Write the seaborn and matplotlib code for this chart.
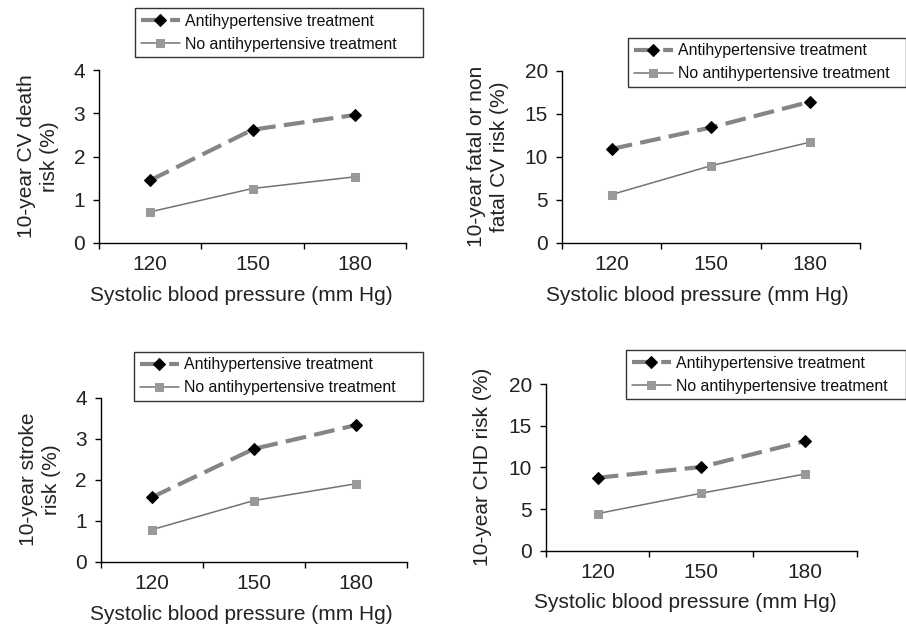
import numpy as np
import pandas as pd
import matplotlib
matplotlib.use("Agg")
import matplotlib.pyplot as plt
import seaborn as sns

sns.set_theme(style="white")
plt.rcParams['font.family'] = ['Liberation Sans', 'DejaVu Sans']

sbp = ["120", "150", "180"]
series_names = ["Antihypertensive treatment", "No antihypertensive treatment"]

cv_death_treated = [1.45, 2.62, 2.96]
cv_death_untreated = [0.72, 1.26, 1.53]
cv_any_treated = [10.9, 13.4, 16.4]
cv_any_untreated = [5.6, 8.95, 11.7]
stroke_treated = [1.57, 2.75, 3.33]
stroke_untreated = [0.78, 1.49, 1.90]
chd_treated = [8.75, 10.05, 13.15]
chd_untreated = [4.45, 6.9, 9.2]

ylabels = ["10-year CV death\nrisk (%)", "10-year fatal or non\nfatal CV risk (%)",
           "10-year stroke\nrisk (%)", "10-year CHD risk (%)"]
ymax = [4, 20, 4, 20]
ystep = [1, 5, 1, 5]
xlabel = "Systolic blood pressure (mm Hg)"

W, H = 906, 627
fig = plt.figure(figsize=(W / 100, H / 100), dpi=100)

# axes boxes in pixels: left, right, top, bottom
boxes = [(99, 406, 70, 243), (562, 860, 70.7, 242.7),
         (100.7, 406.7, 397.7, 561.7), (545.7, 857, 384, 550.7)]
# legend boxes in pixels: left, top, right
legpos = [(135, 8, 423), (628, 37.7, 905.5), (134, 351.7, 423), (626, 350, 905.5)]
ylabpad = [10, 11, 10, 12]
# x-label centres in pixels
xlabc = [(241, 295), (697, 295), (241, 614), (685.6, 603)]

data = [(cv_death_treated, cv_death_untreated), (cv_any_treated, cv_any_untreated),
        (stroke_treated, stroke_untreated), (chd_treated, chd_untreated)]

for i, (box, (tr, un)) in enumerate(zip(boxes, data)):
    l, r, t, b = box
    ax = fig.add_axes([l / W, 1 - b / H, (r - l) / W, (b - t) / H])
    df = pd.DataFrame({"sbp": sbp * 2, "risk": list(tr) + list(un),
                       "group": [series_names[0]] * 3 + [series_names[1]] * 3})
    d1 = df[df.group == series_names[0]]
    d2 = df[df.group == series_names[1]]
    sns.lineplot(data=d1, x="sbp", y="risk", ax=ax, color="#858585", linewidth=3.0,
                 linestyle=(0, (5, 2)), marker="D", markersize=6.5,
                 markerfacecolor="black", markeredgecolor="black",
                 label=series_names[0], sort=False)
    sns.lineplot(data=d2, x="sbp", y="risk", ax=ax, color="#737373", linewidth=1.1,
                 marker="s", markersize=5.8, markerfacecolor="#999999",
                 markeredgecolor="#999999", label=series_names[1], sort=False)
    ax.set_xlim(-0.5, 2.5)
    ax.set_ylim(0, ymax[i])
    ax.set_yticks(np.arange(0, ymax[i] + 0.01, ystep[i]))
    ax.set_xticks([0, 1, 2])
    ax.set_xticklabels(sbp)
    ax.set_xticks([-0.5, 0.5, 1.5, 2.5], minor=True)
    ax.tick_params(axis="x", which="major", length=0, pad=9, labelsize=15, colors="#222222")
    ax.tick_params(axis="x", which="minor", length=4, width=1, direction="out", bottom=True, color="black")
    ax.tick_params(axis="y", which="major", length=4, width=1, direction="out", left=True,
                   pad=6, labelsize=15, colors="black", labelcolor="#222222")
    for s in ["top", "right"]:
        ax.spines[s].set_visible(False)
    for s in ["left", "bottom"]:
        ax.spines[s].set_color("black")
        ax.spines[s].set_linewidth(1.0)
    ax.set_xlabel(xlabel, fontsize=15, color="#222222")
    cx, cy = xlabc[i]
    ax.xaxis.set_label_coords(cx / W, 1 - cy / H, transform=fig.transFigure)
    ax.xaxis.label.set_verticalalignment("center")
    ax.set_ylabel(ylabels[i], fontsize=15, color="#222222", labelpad=ylabpad[i], linespacing=1.3)
    ax.grid(False)
    ax.set_facecolor("white")
    lx, ly, lr = legpos[i]
    leg = ax.legend(loc="upper left", bbox_to_anchor=(lx / W, 1 - ly / H - 0.1, (lr - lx) / W, 0.1),
                    bbox_transform=fig.transFigure, mode="expand", fontsize=11.4, frameon=True,
                    fancybox=False, edgecolor="black", handlelength=2.5,
                    handletextpad=0.3, labelspacing=0.5, borderpad=0.36,
                    borderaxespad=0)
    leg.get_frame().set_linewidth(1.0)
    for txt in leg.get_texts():
        txt.set_color("#111111")

fig.savefig("out.png", dpi=100, facecolor="white")
